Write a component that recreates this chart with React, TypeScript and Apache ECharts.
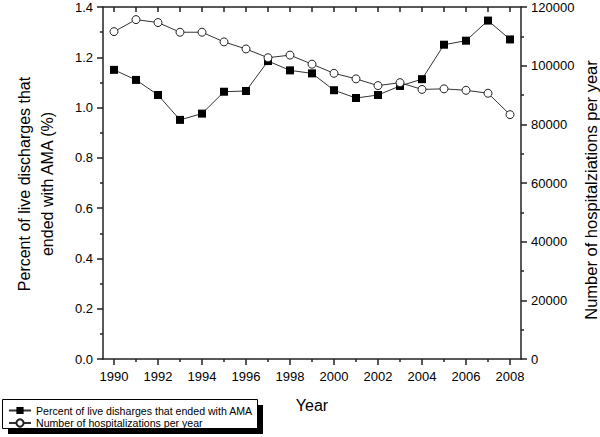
import React, { useEffect, useRef } from "react";
import * as echarts from "echarts";

const years = [1990, 1991, 1992, 1993, 1994, 1995, 1996, 1997, 1998, 1999, 2000, 2001, 2002, 2003, 2004, 2005, 2006, 2007, 2008];
const evenYears = [1990, 1992, 1994, 1996, 1998, 2000, 2002, 2004, 2006, 2008];
const oddYears = [1991, 1993, 1995, 1997, 1999, 2001, 2003, 2005, 2007];
const amaPercent = [1.15, 1.11, 1.05, 0.951, 0.976, 1.063, 1.066, 1.185, 1.148, 1.136, 1.069, 1.038, 1.05, 1.086, 1.113, 1.25, 1.266, 1.346, 1.271];
const hospitalizations = [111600, 115700, 114700, 111400, 111400, 108100, 105700, 102700, 103600, 100500, 97400, 95500, 93200, 94200, 91900, 92100, 91600, 90600, 83300];
const seriesNames = ["Percent of live disharges that ended with AMA", "Number of hospitalizations per year"];
const leftTitle = "Percent of live discharges that\nended with AMA (%)";
const rightTitle = "Number of hospitalziations per year";
const xTitle = "Year";

const FONT = "Liberation Sans, Arial, sans-serif";
const AXIS_COLOR = "#222";

export default function App() {
  const ref = useRef<HTMLDivElement>(null);
  useEffect(() => {
    const chart = echarts.init(ref.current!, null, { renderer: "svg" });
    const lineStyle = { color: AXIS_COLOR, width: 1.5 };
    const labelStyle = { fontSize: 13, fontFamily: FONT, color: "#000" };
    chart.setOption({
      animation: false,
      backgroundColor: "#fff",
      grid: { left: 103, right: 79, top: 7, bottom: 78 },
      xAxis: [
        {
          type: "value",
          position: "bottom",
          min: 1989.5,
          max: 2008.5,
          axisLine: { show: true, lineStyle },
          axisTick: { show: true, customValues: evenYears, length: 6, lineStyle },
          axisLabel: { show: true, customValues: evenYears, formatter: (v: number) => String(v), margin: 11, ...labelStyle },
          splitLine: { show: false },
        },
        {
          type: "value",
          position: "bottom",
          min: 1989.5,
          max: 2008.5,
          axisLine: { show: false },
          axisTick: { show: true, customValues: oddYears, length: 3, lineStyle },
          axisLabel: { show: false },
          splitLine: { show: false },
        },
        {
          type: "value",
          position: "top",
          min: 1989.5,
          max: 2008.5,
          axisLine: { show: true, lineStyle },
          axisTick: { show: true, inside: true, customValues: years, length: 5, lineStyle },
          axisLabel: { show: false },
          splitLine: { show: false },
        },
      ],
      yAxis: [
        {
          type: "value",
          position: "left",
          min: 0,
          max: 1.4,
          interval: 0.2,
          axisLine: { show: true, lineStyle },
          axisTick: { show: true, length: 6, lineStyle },
          minorTick: { show: true, splitNumber: 2, length: 3, lineStyle },
          axisLabel: { formatter: (v: number) => v.toFixed(1), margin: 10, ...labelStyle },
          splitLine: { show: false },
        },
        {
          type: "value",
          position: "right",
          min: 0,
          max: 120000,
          interval: 20000,
          axisLine: { show: true, lineStyle },
          axisTick: { show: true, length: 6, lineStyle },
          minorTick: { show: true, splitNumber: 2, length: 3, lineStyle },
          axisLabel: { formatter: (v: number) => String(v), margin: 10, ...labelStyle },
          splitLine: { show: false },
        },
      ],
      legend: {
        left: 8,
        top: 405,
        orient: "vertical",
        itemWidth: 22,
        itemHeight: 9,
        itemGap: 1.5,
        padding: 0,
        textStyle: { fontSize: 10.6, fontFamily: FONT, color: "#000", lineHeight: 10 },
        data: seriesNames,
      },
      graphic: [
        { type: "rect", z: -10, shape: { x: 8, y: 405, width: 255, height: 29 }, style: { fill: "#000" } },
        { type: "rect", z: -9, shape: { x: 2.5, y: 399.5, width: 255, height: 29 }, style: { fill: "#fff", stroke: "#000", lineWidth: 1 } },
        {
          type: "text",
          x: 36,
          y: 184,
          rotation: Math.PI / 2,
          style: { text: leftTitle, fontSize: 16, fontFamily: FONT, fill: "#000", align: "center", verticalAlign: "middle", lineHeight: 23 },
        },
        {
          type: "text",
          x: 591,
          y: 190,
          rotation: Math.PI / 2,
          style: { text: rightTitle, fontSize: 16.5, fontFamily: FONT, fill: "#000", align: "center", verticalAlign: "middle" },
        },
        {
          type: "text",
          x: 312,
          y: 405,
          style: { text: xTitle, fontSize: 16, fontFamily: FONT, fill: "#000", align: "center", verticalAlign: "middle" },
        },
      ],
      series: [
        {
          name: seriesNames[0],
          type: "line",
          xAxisIndex: 0,
          yAxisIndex: 0,
          data: years.map((y, i) => [y, amaPercent[i]]),
          symbol: "rect",
          symbolSize: 8,
          lineStyle: { color: "#333", width: 1 },
          itemStyle: { color: "#000", borderColor: "#000", borderWidth: 0 },
        },
        {
          name: seriesNames[1],
          type: "line",
          xAxisIndex: 0,
          yAxisIndex: 1,
          data: years.map((y, i) => [y, hospitalizations[i]]),
          symbol: "circle",
          symbolSize: 8,
          showAllSymbol: true,
          lineStyle: { color: "#333", width: 1 },
          itemStyle: { color: "#fff", borderColor: "#222", borderWidth: 1 },
        },
      ],
    });
    return () => chart.dispose();
  }, []);
  return <div ref={ref} style={{ position: "absolute", left: 0, top: 0, width: 600, height: 437 }} />;
}
